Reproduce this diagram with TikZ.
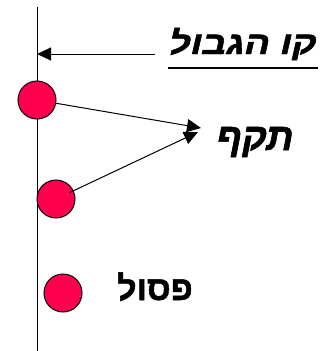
\documentclass[tikz,border=0pt]{standalone}
\usepackage{fontspec}
\newfontfamily\hebfont[Script=Hebrew,BoldFeatures={FakeBold=1.5},BoldItalicFeatures={FakeBold=1.5}]{Liberation Sans}
\TeXXeTstate=1
\usetikzlibrary{arrows.meta}
\definecolor{dotred}{RGB}{255,0,80}
\begin{document}
\begin{tikzpicture}[x=1pt,y=-1pt,
  dot/.style={circle,draw,line width=1pt,fill=dotred,minimum size=38pt,inner sep=0pt},
  lbl/.style={font=\hebfont\bfseries\itshape,inner sep=0pt,anchor=base},
  arr/.style={line width=1pt,-{Triangle[length=14pt,width=13pt]}}]
\useasboundingbox (0,0) rectangle (327,351);
\coordinate (top) at (37,7);
\coordinate (bot) at (37,351);
\draw[line width=1pt] (top) -- (bot);
\node[dot] (c1) at (37,100) {};
\node[dot] (c2) at (56,199) {};
\node[dot] (c3) at (63,293) {};
\node[lbl,font=\hebfont\bfseries\itshape\fontsize{32}{34}\selectfont] (title) at (243,54) {\scalebox{1.18}[1]{\beginR קו הגבול\endR}};
\coordinate (ul1) at (168,68);
\coordinate (ul2) at (318,68);
\draw[line width=2pt] (ul1) -- (ul2);
\coordinate (a0) at (155,54);
\coordinate (a1) at (37,54);
\draw[arr] (a0) -- (a1);
\coordinate (tip) at (201,128);
\coordinate (tip2) at (198,132);
\draw[arr] (c1) -- (tip);
\draw[arr,shorten <=15pt] (c2.center) -- (tip2);
\node[lbl,font=\hebfont\bfseries\itshape\fontsize{38}{40}\selectfont] (valid) at (255,150) {\beginR תקף\endR};
\node[lbl,font=\hebfont\bfseries\fontsize{34}{36}\selectfont] (invalid) at (155,300) {\beginR פסול\endR};
\end{tikzpicture}
\end{document}
